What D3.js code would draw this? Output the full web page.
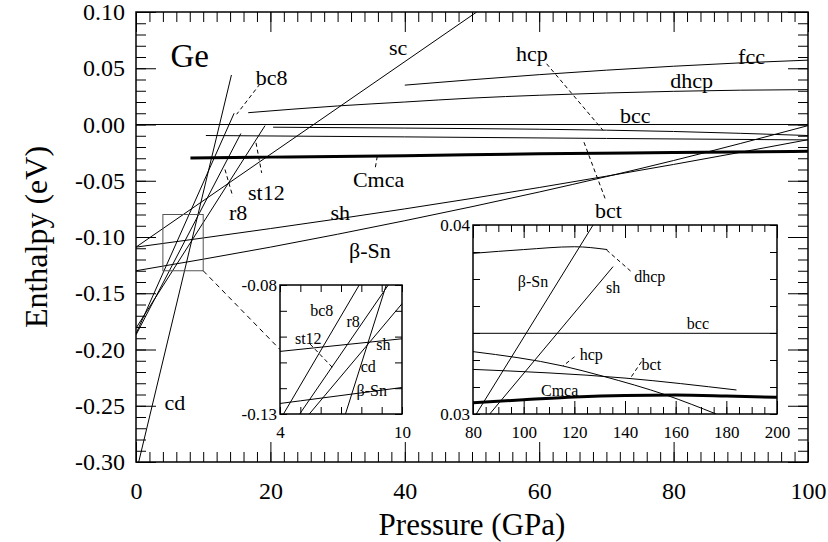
<!DOCTYPE html>
<html>
<head>
<meta charset="utf-8">
<script src="https://cdn.jsdelivr.net/npm/d3@7"></script>
<style>
  body { margin: 0; background: #fff; }
</style>
</head>
<body>
<div id="chart"></div>
<script>
// ---- main panel: enthalpy (eV) vs pressure (GPa), [P, H] pairs ----
const cd     = [[0.4, -0.300], [14.2, 0.044]];
const bc8    = [[0, -0.186], [14.6, 0.010]];
const r8     = [[0, -0.187], [15.6, -0.008]];
const st12   = [[0, -0.181], [19.2, -0.001]];
const sc     = [[0, -0.109], [50.7, 0.100]];
const sh     = [[0, -0.109], [20, -0.0925], [40, -0.075], [60, -0.056], [80, -0.0355], [100, -0.0135]];
const betaSn = [[0, -0.130], [20, -0.109], [40, -0.0855], [60, -0.060], [80, -0.032], [100, -0.001]];
const cmca   = [[8.1, -0.0297], [20, -0.029], [40, -0.0277], [60, -0.026], [80, -0.0249], [100, -0.0238]];
const bct    = [[10.4, -0.0098], [40, -0.011], [70, -0.0124], [100, -0.0137]];
const hcp    = [[20.4, -0.0024], [40, -0.0032], [60, -0.0042], [80, -0.0062], [100, -0.0098]];
const bcc    = [[0, 0], [100, 0]];
const dhcp   = [[16.7, 0.0105], [30, 0.0165], [40, 0.020], [50, 0.0235], [60, 0.026], [70, 0.028], [80, 0.0295], [90, 0.0305], [100, 0.031]];
const fcc    = [[40, 0.035], [50, 0.0398], [60, 0.0443], [70, 0.0483], [80, 0.0518], [90, 0.0548], [100, 0.0572]];

// ---- high pressure inset (80-200 GPa) ----
const dhcpHi   = [[80, 0.0385], [100, 0.0387], [120, 0.03885], [133, 0.0387]];
const betaSnHi = [[81.3, 0.030], [127.4, 0.040]];
const shHi     = [[86.6, 0.030], [135.3, 0.0378]];
const bccHi    = [[80, 0.03427], [200, 0.03427]];
const hcpHi    = [[80, 0.0333], [115.5, 0.03254], [131.3, 0.0320], [156.3, 0.0310], [176, 0.0300]];
const bctHi    = [[80, 0.03236], [140, 0.0319], [184, 0.03127]];
const cmcaHi   = [[80, 0.0306], [100, 0.03075], [120, 0.0309], [140, 0.03098], [160, 0.0310], [180, 0.03095], [200, 0.03088]];

// ---- tick labels ----
const mainXTicks = [0, 20, 40, 60, 80, 100];
const mainYTicks = [0.10, 0.05, 0.00, -0.05, -0.10, -0.15, -0.20, -0.25, -0.30];
const in1XTicks = [4, 10];
const in1YTicks = [-0.08, -0.13];
const in2XTicks = [80, 100, 120, 140, 160, 180, 200];
const in2YTicks = [0.04, 0.03];

// ---- curve labels [text, P, H] and leader lines [P1, H1, P2, H2] ----
const mainLabels = [
  ["sc", 39.0, 0.069], ["bc8", 20.2, 0.042], ["st12", 19.4, -0.060], ["r8", 15.2, -0.078],
  ["Cmca", 36.1, -0.049], ["sh", 30.4, -0.078], ["β-Sn", 34.8, -0.112], ["hcp", 58.9, 0.063],
  ["fcc", 91.6, 0.061], ["dhcp", 82.7, 0.039], ["bcc", 74.3, 0.0085], ["bct", 70.3, -0.076],
  ["cd", 5.8, -0.247]
];
const mainLeaders = [
  [18.45, 0.036, 14.98, 0.0091], [17.86, -0.0163, 18.7, -0.043], [13.24, -0.040, 14.4, -0.064],
  [35.9, -0.0283, 35.6, -0.0388], [61.1, 0.054, 69.5, -0.0052], [69.8, -0.0657, 66.6, -0.0148]
];
const in1Labels = [
  ["bc8", 6.05, -0.0897], ["r8", 7.6, -0.0942], ["st12", 5.39, -0.1007],
  ["sh", 9.08, -0.1029], ["cd", 8.34, -0.1117], ["β-Sn", 8.51, -0.1207]
];
const in1Leaders = [[5.48, -0.1029, 6.62, -0.1123]];
const in2Labels = [
  ["β-Sn", 103.7, 0.0370], ["sh", 135.3, 0.0367], ["dhcp", 149.8, 0.03726], ["bcc", 168.8, 0.0348],
  ["hcp", 126.7, 0.03317], ["bct", 150.4, 0.03263], ["Cmca", 114.2, 0.03127]
];
const in2Leaders = [
  [132.7, 0.03868, 142.5, 0.03753], [120.1, 0.03303, 115.5, 0.03254], [146.5, 0.03277, 142.5, 0.03197]
];

const width = 828, height = 542;
const serif = "Liberation Serif";

const svg = d3.select("#chart").append("svg")
  .attr("width", width)
  .attr("height", height);

// scales
const x = d3.scaleLinear().domain([0, 100]).range([136, 808]);
const y = d3.scaleLinear().domain([-0.30, 0.10]).range([462, 12]);
const x1 = d3.scaleLinear().domain([4, 10]).range([280, 402]);
const y1 = d3.scaleLinear().domain([-0.13, -0.08]).range([414, 285]);
const x2 = d3.scaleLinear().domain([80, 200]).range([473, 777]);
const y2 = d3.scaleLinear().domain([0.03, 0.04]).range([414, 225]);

const fmt2 = d => d.toFixed(2);

function addClip(id, xs, ys) {
  svg.append("clipPath").attr("id", id).append("rect")
    .attr("x", xs.range()[0]).attr("y", ys.range()[1])
    .attr("width", xs.range()[1] - xs.range()[0])
    .attr("height", ys.range()[0] - ys.range()[1]);
}

function drawLines(g, series, xs, ys, clipId) {
  const line = d3.line().x(d => xs(d[0])).y(d => ys(d[1])).curve(d3.curveMonotoneX);
  g.append("g").attr("clip-path", `url(#${clipId})`)
    .selectAll("path").data(series).enter().append("path")
    .attr("d", d => line(d.data))
    .attr("fill", "none")
    .attr("stroke", "#000")
    .attr("stroke-width", d => d.w);
}

function drawLabels(g, labels, xs, ys, size) {
  g.selectAll(null).data(labels).enter().append("text")
    .attr("x", d => xs(d[1]))
    .attr("y", d => ys(d[2]))
    .attr("dy", "0.35em")
    .attr("text-anchor", "middle")
    .attr("font-size", size)
    .style("font-family", serif)
    .text(d => d[0]);
}

function drawLeaders(g, leaders, xs, ys) {
  g.selectAll(null).data(leaders).enter().append("line")
    .attr("x1", d => xs(d[0])).attr("y1", d => ys(d[1]))
    .attr("x2", d => xs(d[2])).attr("y2", d => ys(d[3]))
    .attr("stroke", "#000")
    .attr("stroke-width", 1)
    .attr("stroke-dasharray", "4,3");
}

// one set of ticks on one side (ticks point inward)
function addAxis(g, axis, transform, values, size, format, fontSize, pad) {
  axis.tickValues(values).tickSizeInner(-size).tickSizeOuter(0).tickPadding(pad || 4)
    .tickFormat(format || (() => ""));
  const a = g.append("g").attr("transform", transform).call(axis)
    .attr("font-family", null);
  a.select(".domain").remove();
  a.selectAll("line").attr("stroke", "#000").attr("stroke-width", 1);
  a.selectAll("text")
    .attr("font-size", fontSize || 10)
    .attr("fill", "#000")
    .style("font-family", serif);
  return a;
}

function drawFrame(g, xs, ys, o) {
  const [l, r] = xs.range();
  const [b, t] = ys.range();
  // x ticks, bottom and top
  addAxis(g, d3.axisBottom(xs), `translate(0,${b})`, o.xMinor, o.minLen);
  addAxis(g, d3.axisTop(xs), `translate(0,${t})`, o.xMinor, o.minLen);
  addAxis(g, d3.axisTop(xs), `translate(0,${t})`, o.xMajor, o.xMajLen);
  const xl = addAxis(g, d3.axisBottom(xs), `translate(0,${b})`, o.xMajor, o.xMajLen, o.xFmt, o.fs, 4);
  xl.selectAll("text").attr("y", o.xLabelOff).attr("dy", "0.35em");
  // y ticks, left and right
  addAxis(g, d3.axisLeft(ys), `translate(${l},0)`, o.yMinor, o.minLen);
  addAxis(g, d3.axisRight(ys), `translate(${r},0)`, o.yMinor, o.minLen);
  addAxis(g, d3.axisRight(ys), `translate(${r},0)`, o.yMajor, o.yMajLen);
  addAxis(g, d3.axisLeft(ys), `translate(${l},0)`, o.yMajor, o.yMajLen, o.yFmt, o.fs, o.yPad);
  g.append("rect")
    .attr("x", l).attr("y", t)
    .attr("width", r - l).attr("height", b - t)
    .attr("fill", "none")
    .attr("stroke", "#000")
    .attr("stroke-width", 1.5);
}

// ---------------- main panel ----------------
addClip("clip-main", x, y);
const main = svg.append("g");

drawLines(main, [
  { data: bcc, w: 1 }, { data: fcc, w: 1 }, { data: dhcp, w: 1 }, { data: hcp, w: 1 },
  { data: bct, w: 1 }, { data: sh, w: 1 }, { data: betaSn, w: 1 }, { data: sc, w: 1 },
  { data: st12, w: 1 }, { data: r8, w: 1 }, { data: bc8, w: 1 }, { data: cd, w: 1 },
  { data: cmca, w: 3 }
], x, y, "clip-main");

// box marking the zoomed region
main.append("rect")
  .attr("x", x(4)).attr("y", y(-0.08))
  .attr("width", x(10) - x(4)).attr("height", y(-0.13) - y(-0.08))
  .attr("fill", "none")
  .attr("stroke", "#555")
  .attr("stroke-width", 1);

// dashed connector to the small inset
main.append("line")
  .attr("x1", x(10)).attr("y1", y(-0.13))
  .attr("x2", x1.range()[0]).attr("y2", (y1.range()[0] + y1.range()[1]) / 2)
  .attr("stroke", "#000")
  .attr("stroke-dasharray", "5,4");

drawLeaders(main, mainLeaders, x, y);
drawLabels(main, mainLabels, x, y, 22);

main.append("text")
  .attr("x", x(8.0)).attr("y", y(0.061))
  .attr("dy", "0.35em")
  .attr("text-anchor", "middle")
  .attr("font-size", 33)
  .style("font-family", serif)
  .text("Ge");

drawFrame(main, x, y, {
  xMinor: d3.range(0, 101, 2), xMajor: mainXTicks,
  yMinor: d3.range(-30, 11).map(i => i / 100), yMajor: mainYTicks,
  minLen: 10, xMajLen: 20, yMajLen: 20,
  xFmt: d => d, yFmt: fmt2, fs: 24, xLabelOff: 29, yPad: 11
});

// axis titles
svg.append("text")
  .attr("x", 472).attr("y", 524)
  .attr("dy", "0.35em")
  .attr("text-anchor", "middle")
  .attr("font-size", 31)
  .style("font-family", serif)
  .text("Pressure (GPa)");

svg.append("text")
  .attr("transform", "translate(36,237) rotate(-90)")
  .attr("dy", "0.35em")
  .attr("text-anchor", "middle")
  .attr("font-size", 32)
  .style("font-family", serif)
  .text("Enthalpy (eV)");

// ---------------- inset 1: low pressure zoom ----------------
addClip("clip-in1", x1, y1);
const in1 = svg.append("g");
in1.append("rect")
  .attr("x", x1.range()[0]).attr("y", y1.range()[1])
  .attr("width", x1.range()[1] - x1.range()[0]).attr("height", y1.range()[0] - y1.range()[1])
  .attr("fill", "#fff");
drawLines(in1, [
  { data: bc8, w: 1 }, { data: r8, w: 1 }, { data: st12, w: 1 }, { data: cd, w: 1 },
  { data: sh, w: 1 }, { data: betaSn, w: 1 }
], x1, y1, "clip-in1");
drawLeaders(in1, in1Leaders, x1, y1);
drawLabels(in1, in1Labels, x1, y1, 16);
drawFrame(in1, x1, y1, {
  xMinor: d3.range(4, 11, 1), xMajor: in1XTicks,
  yMinor: d3.range(-13, -7).map(i => i / 100), yMajor: in1YTicks,
  minLen: 7, xMajLen: 7, yMajLen: 7,
  xFmt: d => d, yFmt: fmt2, fs: 17, xLabelOff: 18, yPad: 3
});

// ---------------- inset 2: high pressure ----------------
addClip("clip-in2", x2, y2);
const in2 = svg.append("g");
in2.append("rect")
  .attr("x", x2.range()[0]).attr("y", y2.range()[1])
  .attr("width", x2.range()[1] - x2.range()[0]).attr("height", y2.range()[0] - y2.range()[1])
  .attr("fill", "#fff");
drawLines(in2, [
  { data: dhcpHi, w: 1 }, { data: betaSnHi, w: 1 }, { data: shHi, w: 1 }, { data: bccHi, w: 1 },
  { data: hcpHi, w: 1 }, { data: bctHi, w: 1 }, { data: cmcaHi, w: 3 }
], x2, y2, "clip-in2");
drawLeaders(in2, in2Leaders, x2, y2);
drawLabels(in2, in2Labels, x2, y2, 16);
drawFrame(in2, x2, y2, {
  xMinor: d3.range(80, 201, 5), xMajor: in2XTicks,
  yMinor: d3.range(0, 8).map(i => 0.03 + i * 0.01 / 7), yMajor: in2YTicks,
  minLen: 7, xMajLen: 13, yMajLen: 7,
  xFmt: d => d, yFmt: fmt2, fs: 17, xLabelOff: 18, yPad: 3
});
</script>
</body>
</html>
